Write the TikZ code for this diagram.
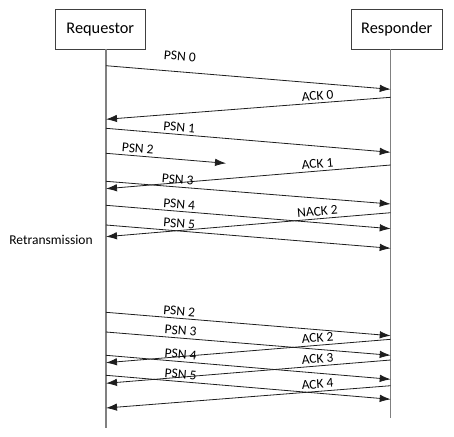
\documentclass[tikz,border=0pt]{standalone}
\usepackage{fontspec}
\setmainfont{Carlito}
\usetikzlibrary{arrows.meta}
\definecolor{boxline}{HTML}{404040}
\definecolor{lifegray}{HTML}{808080}
\definecolor{msgline}{HTML}{1E1E1E}
\tikzset{
  actor/.style={draw=boxline, line width=0.9pt, minimum width=90.7pt, minimum height=40pt, inner sep=0pt, font=\fontsize{16.3}{18}\selectfont},
  life/.style={draw=lifegray, line width=1.2pt},
  msg/.style={draw=msgline, line width=0.8pt, -{Latex[length=11pt,width=7.5pt]}},
  lbl/.style={sloped, pos=0.255, inner sep=0pt, font=\fontsize{13.5}{15}\selectfont, text=black, yshift=7.3pt},
  side/.style={inner sep=0pt, font=\fontsize{13.5}{15}\selectfont, text=black}
}
\begin{document}
\begin{tikzpicture}[x=1pt,y=-1pt]
\useasboundingbox (0,0) rectangle (454,436);
% actors
\node[actor] (req) at (100.3,29.3) {Requestor};
\node[actor, minimum width=91.7pt] (res) at (396.8,29.3) {Responder};
% lifelines
\coordinate (lt) at (106,49.3);
\coordinate (lb) at (106,428);
\coordinate (rt) at (390.7,49.3);
\coordinate (rb) at (390.7,418);
\draw[life] (lt) -- (lb);
\draw[life] (rt) -- (rb);
% endpoints
\coordinate (l1) at (106,65.7);  \coordinate (r1) at (390.7,89.3);
\coordinate (r2) at (390.7,97.3);\coordinate (l2) at (106,119.3);
\coordinate (l3) at (106,128.3); \coordinate (r3) at (390.7,152.3);
\coordinate (l4) at (106,153.3); \coordinate (m4) at (226,163.3);
\coordinate (r5) at (390.7,165); \coordinate (l5) at (106,188.7);
\coordinate (l6) at (106,181.3); \coordinate (r6) at (390.7,204);
\coordinate (l7) at (106,205.3); \coordinate (r7) at (390.7,228.7);
\coordinate (r8) at (390.7,212.7);\coordinate (l8) at (106,236.7);
\coordinate (l9) at (106,225);   \coordinate (r9) at (390.7,248.3);
\coordinate (l10) at (106,312.3);\coordinate (r10) at (390.7,335.7);
\coordinate (l11) at (106,332);  \coordinate (r11) at (390.7,355.3);
\coordinate (r12) at (390.7,339.3);\coordinate (l12) at (106,362.7);
\coordinate (l13) at (106,355.3);\coordinate (r13) at (390.7,379.3);
\coordinate (r14) at (390.7,360);\coordinate (l14) at (106,383.3);
\coordinate (l15) at (106,375.3);\coordinate (r15) at (390.7,399.3);
\coordinate (r16) at (390.7,385.7);\coordinate (l16) at (106,408);
% messages
\draw[msg] (l1) -- node[lbl, yshift=8.4pt] {PSN 0} (r1);
\draw[msg] (r2) -- node[lbl] {ACK 0} (l2);
\draw[msg] (l3) -- node[lbl] {PSN 1} (r3);
\draw[msg] (l4) -- node[lbl, pos=0.26] {PSN 2} (m4);
\draw[msg] (r5) -- node[lbl] {ACK 1} (l5);
\draw[msg] (l6) -- node[lbl, pos=0.25] {PSN 3} (r6);
\draw[msg] (l7) -- node[lbl] {PSN 4} (r7);
\draw[msg] (r8) -- node[lbl] {NACK 2} (l8);
\draw[msg] (l9) -- node[lbl] {PSN 5} (r9);
\node[side] (retx) at (51,240) {Retransmission};
\draw[msg] (l10) -- node[lbl] {PSN 2} (r10);
\draw[msg] (l11) -- node[lbl, pos=0.26] {PSN 3} (r11);
\draw[msg] (r12) -- node[lbl] {ACK 2} (l12);
\draw[msg] (l13) -- node[lbl, pos=0.26] {PSN 4} (r13);
\draw[msg] (r14) -- node[lbl] {ACK 3} (l14);
\draw[msg] (l15) -- node[lbl, pos=0.26] {PSN 5} (r15);
\draw[msg] (r16) -- node[lbl] {ACK 4} (l16);
\end{tikzpicture}
\end{document}
